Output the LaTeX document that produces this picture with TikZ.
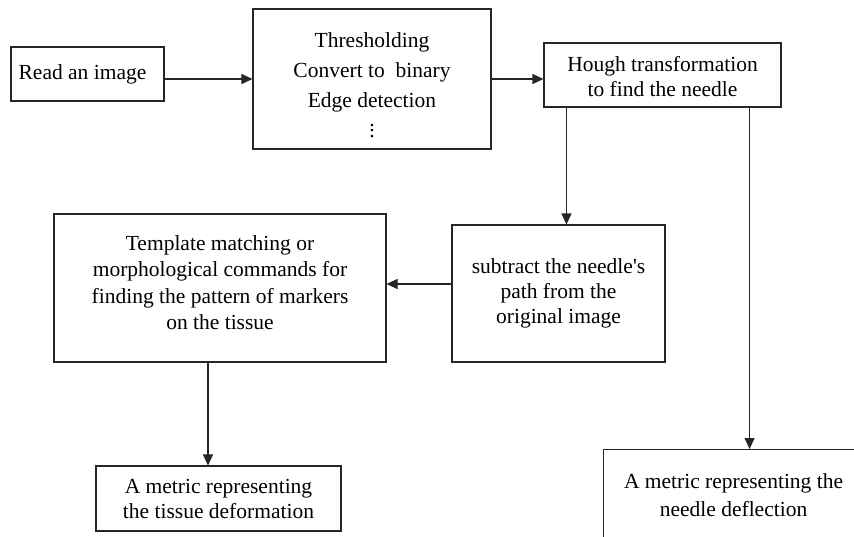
\documentclass[tikz,border=0pt]{standalone}
\usepackage{fontspec}
\setmainfont{Liberation Serif}
\usetikzlibrary{arrows.meta,calc}
\newcommand{\stackdots}{\vbox{\baselineskip=5.5pt\lineskiplimit=0pt\hbox{.}\hbox{.}\hbox{.}}}
\begin{document}
\begin{tikzpicture}[x=1pt,y=-1pt,
  box/.style={draw=black!85, line width=1.1pt, fill=white, align=center,
    inner sep=0pt, font=\fontsize{21.5}{25}\selectfont},
  arr/.style={line width=1.1pt, draw=black!85, -{Triangle[length=11pt,width=10pt]}}]
  \useasboundingbox (0,0) rectangle (854,536);
  \clip (0,0) rectangle (854,536);
  \fill[white] (0,0) rectangle (854,536);

  % processing boxes
  \node[box, minimum width=153pt, minimum height=54pt] (read) at (87.5,74)
        {Read an image\hspace*{10pt}};
  \node[box, minimum width=238pt, minimum height=140pt,
        font=\fontsize{21.5}{30}\selectfont] (proc) at (372,79)
        {\rule{0pt}{27pt}Thresholding\\Convert to \ binary\\Edge detection\\\stackdots};
  \node[box, minimum width=237pt, minimum height=64pt] (hough) at (662.5,75)
        {\rule{0pt}{19pt}Hough transformation\\to find the needle};
  \node[box, minimum width=213pt, minimum height=137pt] (subtract) at (558.5,293.5)
        {subtract the needle\textquotesingle s\\path from the\\original image};
  \node[box, minimum width=332pt, minimum height=148pt,
        font=\fontsize{21.5}{26.5}\selectfont] (template) at (220,288)
        {Template matching or\\morphological commands for\\finding the pattern of markers\\on the tissue\rule[-11pt]{0pt}{0pt}};
  \node[box, minimum width=245pt, minimum height=65pt] (tissue) at (218.5,498.5)
        {A metric representing\\the tissue deformation};
  \node[box, anchor=north west, minimum width=260pt, minimum height=91pt,
        font=\fontsize{21.5}{28}\selectfont] (deflect) at (603,449)
        {A metric representing the\\needle deflection};

  % connectors
  \draw[arr] (proc.west -| read.east) -- (proc.west);
  \draw[arr] (proc.east) -- (proc.east -| hough.west);
  \coordinate (hA) at ($(hough.south west)+(23,0)$);
  \coordinate (hB) at ($(hough.south east)+(-32,0)$);
  \draw[arr] (hA) -- (hA |- subtract.north);
  \draw[arr] (hB) -- (hB |- deflect.north);
  \coordinate (sW) at ($(subtract.west)+(0,-9.5)$);
  \draw[arr] (sW) -- (sW -| template.east);
  \coordinate (tS) at ($(template.south)+(-12,0)$);
  \draw[arr] (tS) -- (tS |- tissue.north);
\end{tikzpicture}
\end{document}
